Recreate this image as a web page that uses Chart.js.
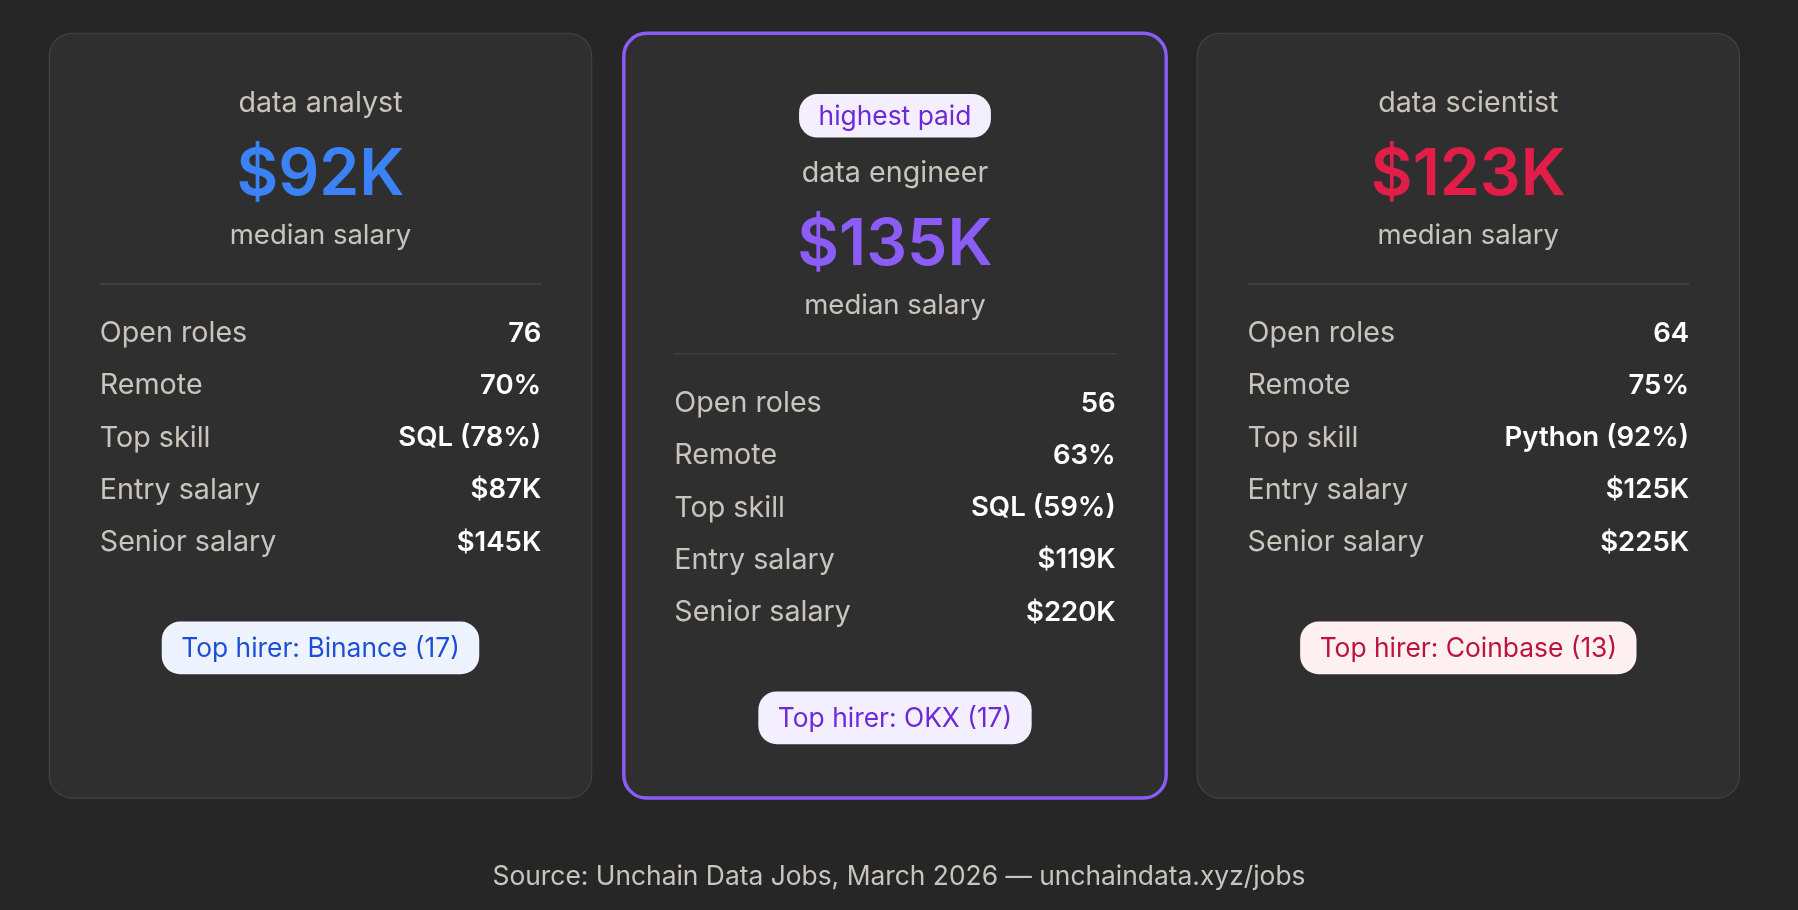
<!DOCTYPE html>
<html>
<head>
<meta charset="utf-8">
<script src="https://cdn.jsdelivr.net/npm/chart.js@4"></script>
<style>
  html, body { margin: 0; padding: 0; background: #262626; overflow: hidden; }
  #wrap { width: 1798px; height: 910px; }
</style>
</head>
<body>
<div id="wrap"><canvas id="cards"></canvas></div>
<script>
// data
const roles = ["data analyst", "data engineer", "data scientist"];
const medianSalary = [92, 135, 123];
const openRoles = [76, 56, 64];
const remotePct = [70, 63, 75];
const topSkill = ["SQL (78%)", "SQL (59%)", "Python (92%)"];
const entrySalary = [87, 119, 125];
const seniorSalary = [145, 220, 225];
const topHirer = ["Binance (17)", "OKX (17)", "Coinbase (13)"];
const highlight = 1;
const rowLabels = ["Open roles", "Remote", "Top skill", "Entry salary", "Senior salary"];
const source = "Source: Unchain Data Jobs, March 2026 \u2014 unchaindata.xyz/jobs";

const accent = ["#3b82f6", "#8b5cf6", "#e11d48"];
const pillBg = ["#eef4ff", "#f3efff", "#fff0f1"];
const pillFg = ["#1d4ed8", "#6d28d9", "#be123c"];
const FONT = "Inter, 'Noto Sans', sans-serif";

function rrect(ctx, x, y, w, h, r) {
  ctx.beginPath();
  ctx.moveTo(x + r, y);
  ctx.arcTo(x + w, y, x + w, y + h, r);
  ctx.arcTo(x + w, y + h, x, y + h, r);
  ctx.arcTo(x, y + h, x, y, r);
  ctx.arcTo(x, y, x + w, y, r);
  ctx.closePath();
}

function pill(ctx, text, cx, cy, h, size, bg, fg) {
  ctx.font = size + "px " + FONT;
  const w = ctx.measureText(text).width + 34;
  ctx.fillStyle = bg;
  rrect(ctx, cx - w / 2, cy - h / 2, w, h, 16);
  ctx.fill();
  ctx.fillStyle = fg;
  ctx.textAlign = "center";
  ctx.fillText(text, cx, cy + 1);
}

const cardPlugin = {
  id: "cardPlugin",
  afterDraw(chart) {
    const ctx = chart.ctx;
    const s = chart.width / 1568;
    ctx.save();
    ctx.scale(s, s);
    ctx.fillStyle = "#262626";
    ctx.fillRect(0, 0, 1568, 794);
    ctx.textBaseline = "middle";
    const xs = [43, 544, 1044];
    roles.forEach((role, i) => {
      const x = xs[i], w = 473, cx = x + w / 2;
      const hi = i === highlight;
      rrect(ctx, x, 29, w, 667, 20);
      ctx.fillStyle = "#2f2f2f";
      ctx.fill();
      ctx.lineWidth = hi ? 3 : 1;
      ctx.strokeStyle = hi ? "#8b5cf6" : "#444";
      ctx.stroke();
      const dy = hi ? 61 : 0;
      if (hi) pill(ctx, "highest paid", cx, 101, 38, 23, pillBg[i], pillFg[i]);
      ctx.textAlign = "center";
      ctx.fillStyle = "#c9c5bd";
      ctx.font = "25px " + FONT;
      ctx.fillText(role, cx, 90 + dy);
      ctx.fillStyle = accent[i];
      ctx.font = "600 56px " + FONT;
      ctx.fillText("$" + medianSalary[i] + "K", cx, 153 + dy);
      ctx.fillStyle = "#c9c5bd";
      ctx.font = "24px " + FONT;
      ctx.fillText("median salary", cx, 206 + dy);
      ctx.strokeStyle = "#4a4a4a";
      ctx.lineWidth = 1;
      ctx.beginPath();
      ctx.moveTo(x + 44, 247.5 + dy);
      ctx.lineTo(x + w - 44, 247.5 + dy);
      ctx.stroke();
      const vals = [String(openRoles[i]), remotePct[i] + "%", topSkill[i],
        "$" + entrySalary[i] + "K", "$" + seniorSalary[i] + "K"];
      rowLabels.forEach((lab, k) => {
        const y = 291 + dy + k * 45.5;
        ctx.textAlign = "left";
        ctx.fillStyle = "#c9c5bd";
        ctx.font = "25px " + FONT;
        ctx.fillText(lab, x + 44, y);
        ctx.textAlign = "right";
        ctx.fillStyle = "#ffffff";
        ctx.font = "600 24px " + FONT;
        ctx.fillText(vals[k], x + w - 44, y);
      });
      pill(ctx, "Top hirer: " + topHirer[i], cx, 565 + dy, 46, 23, pillBg[i], pillFg[i]);
    });
    ctx.textAlign = "center";
    ctx.fillStyle = "#c9c5bd";
    ctx.font = "23px " + FONT;
    ctx.fillText(source, 784, 765);
    ctx.restore();
  }
};

new Chart(document.getElementById("cards").getContext("2d"), {
  type: "bar",
  data: { labels: roles, datasets: [{ label: "Median salary", data: medianSalary, backgroundColor: "rgba(0,0,0,0)" }] },
  options: {
    responsive: true,
    maintainAspectRatio: false,
    animation: false,
    events: [],
    plugins: { legend: { display: false }, tooltip: { enabled: false } },
    scales: { x: { display: false }, y: { display: false } }
  },
  plugins: [cardPlugin]
});
</script>
</body>
</html>
